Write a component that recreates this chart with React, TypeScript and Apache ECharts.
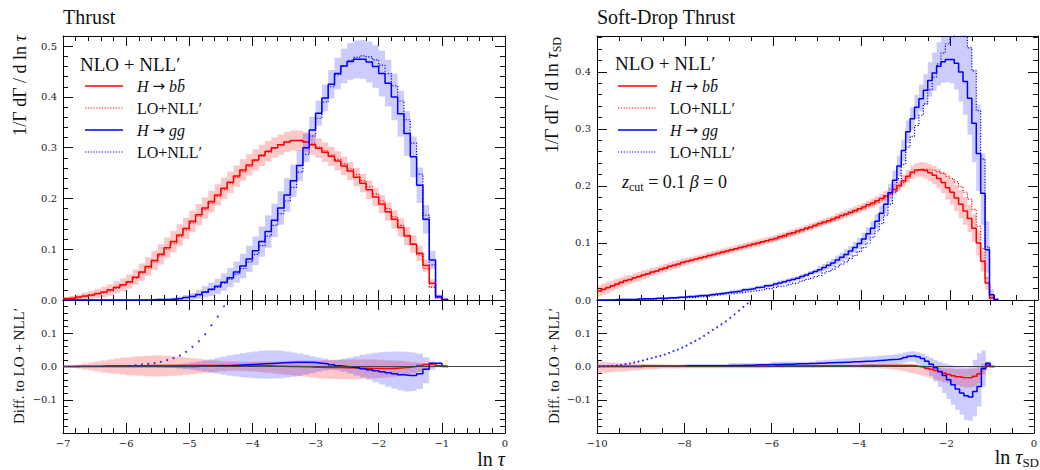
import React, { useEffect, useRef } from "react";
import * as echarts from "echarts";

// ---------------- data ----------------
const BIN_W = 0.1;
const L_START = -7.0; // left panel (Thrust) first bin edge
const R_START = -10.0; // right panel (Soft-Drop Thrust) first bin edge

// Left panel: H -> bb (red)
const L_RED_NLO = [
  0.003, 0.004, 0.006, 0.008, 0.010, 0.013, 0.016, 0.020, 0.025, 0.030,
  0.036, 0.045, 0.055, 0.066, 0.078, 0.090, 0.103, 0.115, 0.128, 0.141,
  0.155, 0.168, 0.181, 0.194, 0.207, 0.220, 0.232, 0.244, 0.256, 0.266,
  0.276, 0.285, 0.293, 0.300, 0.306, 0.311, 0.314, 0.314, 0.311, 0.306,
  0.299, 0.291, 0.283, 0.274, 0.264, 0.254, 0.242, 0.230, 0.217, 0.203,
  0.189, 0.174, 0.159, 0.143, 0.126, 0.110, 0.092, 0.068, 0.033, 0.006,
  0.001,
];
const L_RED_DIFF = [
  0.000, 0.000, 0.001, 0.001, 0.001, 0.001, 0.002, 0.002, 0.002, 0.002,
  0.002, 0.002, 0.002, 0.003, 0.003, 0.003, 0.003, 0.003, 0.003, 0.003,
  0.003, 0.003, 0.003, 0.003, 0.003, 0.003, 0.003, 0.003, 0.003, 0.003,
  0.002, 0.002, 0.002, 0.001, 0.001, 0.000, 0.000, -0.001, -0.001, -0.002,
  -0.002, -0.003, -0.003, -0.003, -0.004, -0.004, -0.005, -0.005, -0.006, -0.006,
  -0.006, -0.006, -0.005, -0.004, -0.002, 0.000, 0.003, 0.006, 0.008, 0.002,
  0.000,
];
const L_RED_ERR = [
  0.003, 0.004, 0.005, 0.007, 0.008, 0.009, 0.010, 0.011, 0.012, 0.013,
  0.014, 0.015, 0.017, 0.018, 0.019, 0.020, 0.020, 0.021, 0.021, 0.021,
  0.021, 0.021, 0.021, 0.021, 0.021, 0.021, 0.021, 0.021, 0.021, 0.021,
  0.021, 0.021, 0.020, 0.020, 0.020, 0.020, 0.020, 0.020, 0.020, 0.020,
  0.019, 0.019, 0.019, 0.019, 0.018, 0.018, 0.018, 0.018, 0.018, 0.018,
  0.018, 0.018, 0.018, 0.018, 0.018, 0.017, 0.015, 0.012, 0.008, 0.003,
  0.001,
];
const L_RED_BLO = [
  -0.001, -0.003, -0.006, -0.009, -0.012, -0.015, -0.018, -0.020, -0.022, -0.024,
  -0.026, -0.027, -0.028, -0.029, -0.030, -0.030, -0.029, -0.028, -0.027, -0.025,
  -0.023, -0.021, -0.019, -0.017, -0.015, -0.014, -0.013, -0.013, -0.013, -0.014,
  -0.015, -0.017, -0.019, -0.021, -0.023, -0.025, -0.027, -0.029, -0.031, -0.033,
  -0.035, -0.036, -0.037, -0.038, -0.038, -0.038, -0.038, -0.037, -0.036, -0.035,
  -0.034, -0.032, -0.030, -0.028, -0.025, -0.021, -0.016, -0.010, -0.004, -0.001,
  0.000,
];
const L_RED_BHI = [
  0.001, 0.003, 0.006, 0.009, 0.012, 0.015, 0.018, 0.021, 0.024, 0.026,
  0.028, 0.030, 0.031, 0.032, 0.033, 0.033, 0.032, 0.031, 0.029, 0.027,
  0.025, 0.023, 0.021, 0.019, 0.017, 0.016, 0.015, 0.014, 0.014, 0.014,
  0.014, 0.014, 0.015, 0.015, 0.016, 0.016, 0.017, 0.017, 0.018, 0.018,
  0.018, 0.019, 0.019, 0.020, 0.020, 0.021, 0.021, 0.021, 0.021, 0.021,
  0.020, 0.019, 0.018, 0.017, 0.015, 0.013, 0.011, 0.009, 0.010, 0.004,
  0.000,
];

// Left panel: H -> gg (blue)
const L_BLUE_NLO = [
  0.000, 0.000, 0.000, 0.000, 0.000, 0.000, 0.000, 0.000, 0.000, 0.000,
  0.000, 0.000, 0.000, 0.000, 0.001, 0.001, 0.001, 0.002, 0.003, 0.005,
  0.007, 0.011, 0.016, 0.021, 0.027, 0.035, 0.044, 0.055, 0.067, 0.081,
  0.097, 0.115, 0.135, 0.157, 0.181, 0.207, 0.235, 0.265, 0.300, 0.335,
  0.368, 0.398, 0.425, 0.446, 0.461, 0.470, 0.474, 0.474, 0.469, 0.460,
  0.446, 0.427, 0.400, 0.367, 0.328, 0.282, 0.226, 0.159, 0.079, 0.007,
  0.001,
];
const L_BLUE_DIFF = [
  0.000, 0.000, 0.000, 0.000, 0.000, 0.000, 0.000, 0.000, 0.000, 0.000,
  0.000, 0.000, 0.000, 0.000, 0.000, 0.000, 0.000, 0.000, 0.000, 0.000,
  0.000, 0.001, 0.001, 0.001, 0.002, 0.002, 0.003, 0.004, 0.005, 0.006,
  0.007, 0.008, 0.009, 0.010, 0.011, 0.012, 0.013, 0.013, 0.013, 0.012,
  0.010, 0.008, 0.005, 0.002, 0.000, -0.002, -0.004, -0.007, -0.010, -0.013,
  -0.016, -0.019, -0.022, -0.025, -0.027, -0.027, -0.022, -0.008, 0.010, 0.010,
  0.000,
];
const L_BLUE_ERR = [
  0.000, 0.000, 0.000, 0.000, 0.000, 0.000, 0.000, 0.000, 0.000, 0.000,
  0.000, 0.000, 0.000, 0.001, 0.001, 0.002, 0.002, 0.003, 0.004, 0.005,
  0.007, 0.009, 0.011, 0.013, 0.015, 0.017, 0.019, 0.021, 0.024, 0.026,
  0.028, 0.030, 0.032, 0.033, 0.033, 0.033, 0.032, 0.030, 0.028, 0.026,
  0.025, 0.026, 0.028, 0.031, 0.034, 0.036, 0.037, 0.038, 0.040, 0.042,
  0.045, 0.046, 0.046, 0.045, 0.044, 0.040, 0.035, 0.028, 0.018, 0.004,
  0.001,
];
const L_BLUE_BLO = [
  0.000, 0.000, 0.000, 0.000, 0.000, 0.000, 0.000, 0.000, 0.000, 0.000,
  0.000, 0.000, 0.000, 0.000, -0.001, -0.002, -0.003, -0.004, -0.006, -0.008,
  -0.010, -0.013, -0.016, -0.019, -0.022, -0.025, -0.028, -0.030, -0.032, -0.034,
  -0.035, -0.036, -0.037, -0.036, -0.035, -0.033, -0.031, -0.028, -0.024, -0.020,
  -0.016, -0.012, -0.010, -0.012, -0.016, -0.021, -0.027, -0.033, -0.040, -0.047,
  -0.054, -0.061, -0.067, -0.072, -0.075, -0.074, -0.068, -0.050, -0.010, -0.002,
  0.000,
];
const L_BLUE_BHI = [
  0.000, 0.000, 0.000, 0.000, 0.000, 0.000, 0.000, 0.000, 0.000, 0.000,
  0.000, 0.000, 0.000, 0.000, 0.001, 0.002, 0.003, 0.005, 0.007, 0.009,
  0.012, 0.015, 0.018, 0.022, 0.026, 0.030, 0.034, 0.037, 0.040, 0.043,
  0.045, 0.047, 0.048, 0.048, 0.047, 0.045, 0.042, 0.039, 0.035, 0.031,
  0.027, 0.023, 0.020, 0.020, 0.023, 0.027, 0.031, 0.035, 0.038, 0.041,
  0.043, 0.044, 0.045, 0.045, 0.044, 0.042, 0.038, 0.028, 0.015, 0.012,
  0.000,
];
// Left lower panel: dotted blue points
const L_DOT_X = [-5.95, -5.85, -5.75, -5.65, -5.55, -5.45, -5.35, -5.25, -5.15, -5.05, -4.95, -4.85, -4.75, -4.65, -4.55, -4.45];
const L_DOT_Y = [0.002, 0.004, 0.006, 0.008, 0.010, 0.014, 0.019, 0.025, 0.033, 0.044, 0.059, 0.076, 0.097, 0.124, 0.150, 0.181];

// Right panel: H -> bb (red)
const R_RED_NLO = [
  0.016, 0.019, 0.022, 0.025, 0.028, 0.031, 0.034, 0.036, 0.039, 0.041,
  0.044, 0.046, 0.049, 0.051, 0.054, 0.056, 0.059, 0.061, 0.063, 0.066,
  0.068, 0.070, 0.072, 0.074, 0.076, 0.078, 0.080, 0.082, 0.084, 0.086,
  0.088, 0.090, 0.092, 0.094, 0.096, 0.098, 0.100, 0.102, 0.104, 0.106,
  0.108, 0.111, 0.113, 0.116, 0.118, 0.121, 0.123, 0.126, 0.128, 0.131,
  0.134, 0.137, 0.139, 0.142, 0.145, 0.148, 0.151, 0.154, 0.157, 0.160,
  0.163, 0.167, 0.170, 0.174, 0.178, 0.183, 0.188, 0.194, 0.201, 0.209,
  0.217, 0.224, 0.228, 0.229, 0.227, 0.223, 0.219, 0.213, 0.206, 0.197,
  0.189, 0.179, 0.168, 0.156, 0.143, 0.126, 0.100, 0.068, 0.030, 0.004,
  0.001,
];
const R_RED_DIFF = [
  0.001, 0.001, 0.001, 0.001, 0.001, 0.001, 0.001, 0.001, 0.001, 0.001,
  0.001, 0.001, 0.001, 0.001, 0.001, 0.001, 0.001, 0.001, 0.001, 0.001,
  0.001, 0.001, 0.001, 0.001, 0.001, 0.001, 0.001, 0.001, 0.001, 0.001,
  0.001, 0.001, 0.001, 0.001, 0.001, 0.001, 0.001, 0.001, 0.001, 0.001,
  0.002, 0.002, 0.002, 0.002, 0.002, 0.002, 0.002, 0.002, 0.002, 0.002,
  0.002, 0.002, 0.002, 0.002, 0.002, 0.002, 0.002, 0.002, 0.002, 0.002,
  0.003, 0.003, 0.003, 0.003, 0.003, 0.003, 0.003, 0.003, 0.003, 0.003,
  0.003, 0.003, 0.002, 0.000, -0.002, -0.005, -0.008, -0.012, -0.016, -0.020,
  -0.024, -0.028, -0.031, -0.033, -0.034, -0.033, -0.029, -0.022, -0.008, 0.004,
  0.000,
];
const R_RED_ERR = [
  0.010, 0.010, 0.010, 0.009, 0.009, 0.009, 0.009, 0.008, 0.008, 0.008,
  0.008, 0.008, 0.007, 0.007, 0.007, 0.007, 0.007, 0.007, 0.007, 0.007,
  0.006, 0.006, 0.006, 0.006, 0.006, 0.006, 0.006, 0.006, 0.006, 0.006,
  0.006, 0.006, 0.006, 0.006, 0.006, 0.006, 0.006, 0.006, 0.006, 0.006,
  0.006, 0.006, 0.006, 0.006, 0.006, 0.006, 0.006, 0.006, 0.006, 0.006,
  0.006, 0.006, 0.006, 0.006, 0.007, 0.007, 0.007, 0.007, 0.007, 0.007,
  0.007, 0.007, 0.008, 0.008, 0.008, 0.009, 0.009, 0.010, 0.010, 0.011,
  0.011, 0.012, 0.012, 0.013, 0.014, 0.015, 0.016, 0.017, 0.019, 0.021,
  0.022, 0.023, 0.024, 0.024, 0.024, 0.024, 0.022, 0.018, 0.012, 0.004,
  0.001,
];
const R_RED_BLO = [
  -0.020, -0.019, -0.018, -0.017, -0.016, -0.015, -0.014, -0.013, -0.012, -0.011,
  -0.010, -0.009, -0.008, -0.008, -0.007, -0.006, -0.006, -0.006, -0.006, -0.006,
  -0.005, -0.005, -0.005, -0.005, -0.005, -0.005, -0.005, -0.005, -0.005, -0.005,
  -0.005, -0.005, -0.005, -0.005, -0.005, -0.005, -0.005, -0.005, -0.005, -0.005,
  -0.004, -0.004, -0.004, -0.004, -0.004, -0.004, -0.004, -0.004, -0.004, -0.004,
  -0.004, -0.004, -0.004, -0.004, -0.004, -0.004, -0.004, -0.004, -0.004, -0.004,
  -0.005, -0.005, -0.005, -0.005, -0.005, -0.006, -0.007, -0.008, -0.010, -0.012,
  -0.015, -0.018, -0.021, -0.024, -0.027, -0.031, -0.035, -0.039, -0.043, -0.047,
  -0.051, -0.055, -0.058, -0.061, -0.063, -0.063, -0.060, -0.050, -0.025, -0.002,
  0.000,
];
const R_RED_BHI = [
  0.015, 0.014, 0.013, 0.012, 0.011, 0.010, 0.010, 0.009, 0.009, 0.008,
  0.008, 0.007, 0.007, 0.006, 0.006, 0.006, 0.005, 0.005, 0.005, 0.005,
  0.005, 0.005, 0.005, 0.005, 0.005, 0.005, 0.005, 0.005, 0.005, 0.005,
  0.005, 0.005, 0.005, 0.005, 0.005, 0.005, 0.005, 0.005, 0.005, 0.005,
  0.005, 0.005, 0.005, 0.005, 0.005, 0.005, 0.005, 0.005, 0.005, 0.005,
  0.005, 0.005, 0.005, 0.005, 0.005, 0.005, 0.005, 0.005, 0.005, 0.005,
  0.006, 0.006, 0.006, 0.006, 0.006, 0.007, 0.007, 0.008, 0.008, 0.008,
  0.008, 0.008, 0.007, 0.006, 0.004, 0.002, 0.000, -0.002, -0.004, -0.005,
  -0.006, -0.007, -0.008, -0.008, -0.008, -0.007, -0.005, 0.000, 0.008, 0.008,
  0.000,
];

// Right panel: H -> gg (blue)
const R_BLUE_NLO = [
  0.000, 0.000, 0.000, 0.000, 0.001, 0.001, 0.001, 0.001, 0.001, 0.002,
  0.002, 0.002, 0.002, 0.003, 0.003, 0.003, 0.004, 0.004, 0.005, 0.005,
  0.006, 0.006, 0.007, 0.008, 0.008, 0.009, 0.010, 0.011, 0.012, 0.013,
  0.014, 0.015, 0.016, 0.018, 0.019, 0.020, 0.022, 0.023, 0.025, 0.026,
  0.028, 0.030, 0.032, 0.034, 0.036, 0.038, 0.041, 0.044, 0.047, 0.050,
  0.053, 0.057, 0.061, 0.065, 0.070, 0.075, 0.080, 0.086, 0.092, 0.099,
  0.107, 0.116, 0.126, 0.138, 0.152, 0.168, 0.188, 0.210, 0.235, 0.262,
  0.295, 0.318, 0.338, 0.353, 0.368, 0.385, 0.398, 0.410, 0.418, 0.422,
  0.422, 0.415, 0.400, 0.383, 0.354, 0.310, 0.257, 0.187, 0.088, 0.009,
  0.001,
];
const R_BLUE_DIFF = [
  0.000, 0.000, 0.000, 0.000, 0.000, 0.000, 0.000, 0.000, 0.000, 0.000,
  0.001, 0.001, 0.001, 0.001, 0.001, 0.001, 0.001, 0.001, 0.001, 0.001,
  0.002, 0.002, 0.002, 0.002, 0.002, 0.002, 0.002, 0.002, 0.002, 0.002,
  0.003, 0.003, 0.003, 0.004, 0.004, 0.004, 0.005, 0.005, 0.005, 0.006,
  0.006, 0.006, 0.007, 0.007, 0.007, 0.008, 0.008, 0.008, 0.009, 0.009,
  0.010, 0.010, 0.011, 0.011, 0.012, 0.012, 0.013, 0.013, 0.014, 0.014,
  0.015, 0.016, 0.016, 0.017, 0.018, 0.019, 0.020, 0.021, 0.022, 0.024,
  0.027, 0.031, 0.032, 0.029, 0.024, 0.016, 0.007, -0.004, -0.015, -0.027,
  -0.040, -0.055, -0.068, -0.080, -0.088, -0.092, -0.075, -0.060, -0.005, 0.010,
  0.000,
];
const R_BLUE_ELO = [
  0.001, 0.001, 0.001, 0.001, 0.001, 0.001, 0.001, 0.001, 0.001, 0.001,
  0.002, 0.002, 0.002, 0.002, 0.002, 0.002, 0.002, 0.002, 0.002, 0.002,
  0.002, 0.002, 0.002, 0.002, 0.002, 0.002, 0.002, 0.002, 0.002, 0.002,
  0.003, 0.003, 0.003, 0.003, 0.003, 0.003, 0.003, 0.003, 0.003, 0.003,
  0.004, 0.004, 0.004, 0.004, 0.004, 0.004, 0.004, 0.004, 0.004, 0.004,
  0.006, 0.006, 0.007, 0.007, 0.008, 0.008, 0.009, 0.009, 0.010, 0.010,
  0.011, 0.011, 0.012, 0.013, 0.014, 0.015, 0.016, 0.017, 0.018, 0.019,
  0.020, 0.020, 0.020, 0.022, 0.025, 0.028, 0.031, 0.034, 0.037, 0.040,
  0.042, 0.046, 0.052, 0.058, 0.064, 0.068, 0.066, 0.055, 0.040, 0.005,
  0.001,
];
const R_BLUE_EHI = [
  0.001, 0.001, 0.001, 0.001, 0.001, 0.001, 0.001, 0.001, 0.001, 0.001,
  0.002, 0.002, 0.002, 0.002, 0.002, 0.002, 0.002, 0.002, 0.002, 0.002,
  0.002, 0.002, 0.002, 0.002, 0.002, 0.002, 0.002, 0.002, 0.002, 0.002,
  0.003, 0.003, 0.003, 0.003, 0.003, 0.003, 0.003, 0.003, 0.003, 0.003,
  0.004, 0.004, 0.004, 0.004, 0.004, 0.004, 0.004, 0.004, 0.004, 0.004,
  0.006, 0.006, 0.007, 0.007, 0.008, 0.008, 0.009, 0.009, 0.010, 0.010,
  0.011, 0.011, 0.012, 0.013, 0.014, 0.015, 0.016, 0.017, 0.018, 0.019,
  0.020, 0.020, 0.022, 0.025, 0.028, 0.032, 0.036, 0.042, 0.048, 0.055,
  0.062, 0.070, 0.078, 0.085, 0.090, 0.094, 0.086, 0.070, 0.050, 0.010,
  0.001,
];
const R_BLUE_BLO = [
  -0.002, -0.002, -0.002, -0.002, -0.002, -0.002, -0.002, -0.002, -0.002, -0.002,
  -0.003, -0.003, -0.003, -0.003, -0.003, -0.003, -0.003, -0.003, -0.003, -0.003,
  -0.003, -0.003, -0.003, -0.003, -0.003, -0.003, -0.003, -0.003, -0.003, -0.003,
  -0.003, -0.003, -0.003, -0.003, -0.003, -0.003, -0.003, -0.003, -0.003, -0.003,
  -0.003, -0.003, -0.003, -0.003, -0.003, -0.003, -0.003, -0.003, -0.003, -0.003,
  -0.002, -0.002, -0.001, -0.001, 0.000, 0.000, 0.001, 0.001, 0.002, 0.002,
  0.002, 0.003, 0.003, 0.003, 0.004, 0.004, 0.005, 0.006, 0.007, 0.009,
  0.012, 0.015, 0.014, 0.008, 0.000, -0.012, -0.028, -0.045, -0.062, -0.080,
  -0.098, -0.115, -0.130, -0.145, -0.160, -0.163, -0.150, -0.120, -0.060, -0.005,
  0.000,
];
const R_BLUE_BHI = [
  0.002, 0.002, 0.002, 0.002, 0.002, 0.002, 0.002, 0.002, 0.002, 0.002,
  0.005, 0.005, 0.005, 0.005, 0.005, 0.005, 0.005, 0.005, 0.005, 0.005,
  0.007, 0.007, 0.007, 0.007, 0.007, 0.007, 0.007, 0.007, 0.007, 0.007,
  0.010, 0.010, 0.010, 0.010, 0.010, 0.010, 0.010, 0.010, 0.010, 0.010,
  0.014, 0.014, 0.014, 0.014, 0.014, 0.014, 0.014, 0.014, 0.014, 0.014,
  0.018, 0.019, 0.020, 0.021, 0.022, 0.023, 0.024, 0.025, 0.026, 0.027,
  0.028, 0.029, 0.030, 0.031, 0.032, 0.033, 0.034, 0.035, 0.037, 0.039,
  0.042, 0.045, 0.046, 0.043, 0.038, 0.032, 0.026, 0.020, 0.014, 0.010,
  0.006, 0.003, 0.000, -0.002, -0.003, 0.000, 0.020, 0.040, 0.048, 0.015,
  0.000,
];
// Right lower panel: dotted blue points
const R_DOT_X = [
  -9.95, -9.85, -9.75, -9.65, -9.55, -9.45, -9.35, -9.25, -9.15, -9.05,
  -8.95, -8.85, -8.75, -8.65, -8.55, -8.45, -8.35, -8.25, -8.15, -8.05,
  -7.95, -7.85, -7.75, -7.65, -7.55, -7.45, -7.35, -7.25, -7.15, -7.05,
  -6.95, -6.85, -6.75, -6.65, -6.55,
];
const R_DOT_Y = [
  0.000, 0.001, 0.001, 0.002, 0.003, 0.005, 0.007, 0.009, 0.012, 0.015,
  0.018, 0.022, 0.025, 0.029, 0.032, 0.036, 0.041, 0.046, 0.051, 0.057,
  0.063, 0.070, 0.077, 0.084, 0.092, 0.101, 0.110, 0.118, 0.127, 0.136,
  0.146, 0.157, 0.168, 0.179, 0.190,
];

// ---------------- styling ----------------
const SERIF = '"Liberation Serif", "Times New Roman", serif';
const TICK_FONT = '"DejaVu Serif", serif';
const ARROW_FONT = '"DejaVu Sans", sans-serif';
const RED = "#ff0000";
const BLUE = "#0000ff";
const RED_BAND = "rgba(255,0,0,0.22)";
const BLUE_BAND = "rgba(0,0,255,0.20)";
const DOTS: number[] = [1.2, 1.6];

const L_YMAX = 0.52;
const R_YMAX = 0.463;
const D_MIN = -0.2;
const D_MAX = 0.2;

function makeEdges(start: number, n: number) {
  const e: number[] = [];
  for (let i = 0; i <= n; i++) e.push(Math.round((start + i * BIN_W) * 1000) / 1000);
  return e;
}
function stepData(e: number[], v: number[]) {
  const d: number[][] = v.map((y, i) => [e[i], y]);
  d.push([e[v.length], v[v.length - 1]]);
  return d;
}
const minus = (a: number[], b: number[]) => a.map((v, i) => v - (b[i] || 0));
const plus = (a: number[], b: number[]) => a.map((v, i) => v + (b[i] || 0));

function fmtNum(v: number, digits: number) {
  const s = Math.abs(v).toFixed(digits);
  return v < -1e-9 ? "\u2212" + s : s;
}
const fmtX = (v: number) => fmtNum(v, 0);
const fmtYMain = (v: number) => {
  const k = v * 10;
  if (Math.abs(k - Math.round(k)) > 1e-6) return "";
  return fmtNum(v, 1);
};
const fmtYDiff = (v: number) => (Math.abs(v) < 0.15 ? fmtNum(v, 1) : "");

function axes(kind: "x" | "y", grid: number, min: number, max: number, major: number, minor: number, labels: boolean, fmt: (v: number) => string, margin: number) {
  const positions = kind === "x" ? ["bottom", "top"] : ["left", "right"];
  const out: any[] = [];
  positions.forEach((pos, k) => {
    const common = {
      type: "value", gridIndex: grid, min, max, position: pos,
      splitLine: { show: false }, minorTick: { show: false }, minorSplitLine: { show: false },
      axisPointer: { show: false }, silent: true,
    };
    out.push({
      ...common, interval: major,
      axisLine: { show: true, onZero: false, lineStyle: { color: "#000", width: 1 } },
      axisTick: { show: true, inside: true, length: 10, lineStyle: { color: "#111", width: 1 } },
      axisLabel: { show: labels && k === 0, fontFamily: TICK_FONT, fontSize: 10, color: "#222", margin, formatter: fmt },
    });
    out.push({
      ...common, interval: minor,
      axisLine: { show: false, onZero: false },
      axisTick: { show: true, inside: true, length: 5, lineStyle: { color: "#111", width: 1 } },
      axisLabel: { show: false },
    });
  });
  return out;
}

function band(ai: number, e: number[], lo: number[], hi: number[], fill: string, ymin: number, ymax: number) {
  const mid = e[Math.floor(e.length / 2)];
  return {
    type: "custom", xAxisIndex: ai, yAxisIndex: ai, silent: true, z: 1,
    data: [[mid, 0]],
    renderItem: (_p: any, api: any) => {
      const top: number[][] = [];
      const bot: number[][] = [];
      const clamp = (v: number) => Math.min(ymax, Math.max(ymin, v));
      for (let i = 0; i < lo.length; i++) {
        const h = clamp(hi[i]);
        const l = clamp(lo[i]);
        top.push(api.coord([e[i], h]), api.coord([e[i + 1], h]));
        bot.push(api.coord([e[i], l]), api.coord([e[i + 1], l]));
      }
      bot.reverse();
      return { type: "polygon", shape: { points: top.concat(bot) }, style: { fill, stroke: "none" } };
    },
  };
}

function stepLine(ai: number, e: number[], v: number[], color: string, dotted: boolean, z: number) {
  return {
    type: "line", xAxisIndex: ai, yAxisIndex: ai, data: stepData(e, v), step: "end",
    symbol: "none", showSymbol: false, silent: true, z, clip: true,
    lineStyle: { color, width: dotted ? 1.2 : 1.5, type: dotted ? DOTS : "solid" },
    itemStyle: { color },
  };
}

function dots(ai: number, xs: number[], ys: number[]) {
  return {
    type: "scatter", xAxisIndex: ai, yAxisIndex: ai, data: xs.map((x, i) => [x, ys[i]]),
    symbol: "circle", symbolSize: 2, silent: true, z: 4, clip: true,
    itemStyle: { color: BLUE },
  };
}

function zeroLine(ai: number, x0: number) {
  return {
    type: "line", xAxisIndex: ai, yAxisIndex: ai, data: [[x0, 0], [0, 0]],
    symbol: "none", silent: true, z: 5, lineStyle: { color: "#444", width: 1 },
  };
}

// ---------------- text helpers ----------------
const tok = (size: number, italic = false, extra: any = {}) => ({
  fontFamily: SERIF, fontSize: size, fontStyle: italic ? "italic" : "normal", fill: "#111",
  lineHeight: size, ...extra,
});
const subTok = (size: number, pad: number) => tok(size, false, { lineHeight: size, padding: [pad, 0, 0, 0], verticalAlign: "top" });

function txt(x: number, y: number, text: string, rich: any, align: string, valign: string, rotation = 0, size = 16) {
  return {
    type: "text", x, y, rotation, silent: true, z: 100,
    style: {
      text, rich, fill: "#111", fontFamily: SERIF, fontSize: size,
      textAlign: align, align, textVerticalAlign: valign, verticalAlign: valign,
    },
  };
}
function sample(x1: number, x2: number, y: number, color: string, dotted: boolean) {
  return {
    type: "line", silent: true, z: 100,
    shape: { x1, y1: y, x2, y2: y },
    style: { stroke: color, lineWidth: dotted ? 1.2 : 1.5, lineDash: dotted ? DOTS : null },
  };
}

function buildOption() {
  const LE = makeEdges(L_START, L_RED_NLO.length);
  const RE = makeEdges(R_START, R_RED_NLO.length);

  const grid = [
    { left: 63, top: 36, width: 442, height: 264 },
    { left: 63, top: 300, width: 442, height: 133 },
    { left: 597, top: 36, width: 441, height: 264 },
    { left: 597, top: 300, width: 441, height: 133 },
  ];

  const xAxis = [
    ...axes("x", 0, -7, 0, 1, 0.2, false, fmtX, 5),
    ...axes("x", 1, -7, 0, 1, 0.2, true, fmtX, 5),
    ...axes("x", 2, -10, 0, 2, 0.5, false, fmtX, 5),
    ...axes("x", 3, -10, 0, 2, 0.5, true, fmtX, 5),
  ];
  const yAxis = [
    ...axes("y", 0, 0, L_YMAX, 0.1, 0.02, true, fmtYMain, 6),
    ...axes("y", 1, D_MIN, D_MAX, 0.1, 0.02, true, fmtYDiff, 6),
    ...axes("y", 2, 0, R_YMAX, 0.1, 0.02, true, fmtYMain, 6),
    ...axes("y", 3, D_MIN, D_MAX, 0.1, 0.02, true, fmtYDiff, 6),
  ];

  const L_RED_LO = minus(L_RED_NLO, L_RED_DIFF);
  const L_BLUE_LO = minus(L_BLUE_NLO, L_BLUE_DIFF);
  const R_RED_LO = minus(R_RED_NLO, R_RED_DIFF);
  const R_BLUE_LO = minus(R_BLUE_NLO, R_BLUE_DIFF);

  const series: any[] = [
    // left main
    band(0, LE, minus(L_RED_NLO, L_RED_ERR), plus(L_RED_NLO, L_RED_ERR), RED_BAND, 0, L_YMAX),
    band(0, LE, minus(L_BLUE_NLO, L_BLUE_ERR), plus(L_BLUE_NLO, L_BLUE_ERR), BLUE_BAND, 0, L_YMAX),
    stepLine(0, LE, L_RED_LO, RED, true, 2),
    stepLine(0, LE, L_RED_NLO, RED, false, 3),
    stepLine(0, LE, L_BLUE_LO, BLUE, true, 2),
    stepLine(0, LE, L_BLUE_NLO, BLUE, false, 3),
    // left lower
    band(4, LE, L_RED_BLO, L_RED_BHI, RED_BAND, D_MIN, D_MAX),
    band(4, LE, L_BLUE_BLO, L_BLUE_BHI, BLUE_BAND, D_MIN, D_MAX),
    stepLine(4, LE, L_RED_DIFF, RED, false, 3),
    stepLine(4, LE, L_BLUE_DIFF, BLUE, false, 3),
    dots(4, L_DOT_X, L_DOT_Y),
    zeroLine(4, -7),
    // right main
    band(8, RE, minus(R_RED_NLO, R_RED_ERR), plus(R_RED_NLO, R_RED_ERR), RED_BAND, 0, R_YMAX),
    band(8, RE, minus(R_BLUE_NLO, R_BLUE_ELO), plus(R_BLUE_NLO, R_BLUE_EHI), BLUE_BAND, 0, R_YMAX),
    stepLine(8, RE, R_RED_LO, RED, true, 2),
    stepLine(8, RE, R_RED_NLO, RED, false, 3),
    stepLine(8, RE, R_BLUE_LO, BLUE, true, 2),
    stepLine(8, RE, R_BLUE_NLO, BLUE, false, 3),
    // right lower
    band(12, RE, R_RED_BLO, R_RED_BHI, RED_BAND, D_MIN, D_MAX),
    band(12, RE, R_BLUE_BLO, R_BLUE_BHI, BLUE_BAND, D_MIN, D_MAX),
    stepLine(12, RE, R_RED_DIFF, RED, false, 3),
    stepLine(12, RE, R_BLUE_DIFF, BLUE, false, 3),
    dots(12, R_DOT_X, R_DOT_Y),
    zeroLine(12, -10),
  ];

  const yl = { rm: tok(18), it: tok(18, true), sub: subTok(12, 8) };
  const xl = { rm: tok(20), it: tok(20, true), sub: subTok(13, 9) };
  const lg = { rm: tok(16), it: tok(16, true), ar: tok(15, false, { fontFamily: ARROW_FONT }) };
  const hd = { rm: tok(19) };
  const zc = { rm: tok(18), it: tok(18, true), sub: subTok(12, 8) };
  const ti = { rm: tok(20) };
  const dl = { rm: tok(15) };

  const graphic: any[] = [
    txt(63, 17, "{rm|Thrust}", ti, "left", "middle"),
    txt(597, 17, "{rm|Soft-Drop Thrust}", ti, "left", "middle"),
    txt(20, 35, "{rm|1/\u0393 d\u0393 / d ln }{it|\u03c4}", yl, "right", "middle", Math.PI / 2),
    txt(552, 37, "{rm|1/\u0393 d\u0393 / d ln }{it|\u03c4}{sub|SD}", yl, "right", "middle", Math.PI / 2),
    txt(19, 366, "{rm|Diff. to LO + NLL\u2032}", dl, "center", "middle", Math.PI / 2),
    txt(554, 366, "{rm|Diff. to LO + NLL\u2032}", dl, "center", "middle", Math.PI / 2),
    txt(505, 459, "{rm|ln }{it|\u03c4}", xl, "right", "middle"),
    txt(1039, 457, "{rm|ln }{it|\u03c4}{sub|SD}", xl, "right", "middle"),
    // left legend
    txt(80, 64, "{rm|NLO + NLL\u2032}", hd, "left", "middle"),
    sample(85, 123, 86, RED, false),
    sample(85, 123, 108, RED, true),
    sample(85, 123, 130, BLUE, false),
    sample(85, 123, 152, BLUE, true),
    txt(137, 86, "{it|H}{rm| }{ar|\u2192}{rm| }{it|bb\u0304}", lg, "left", "middle"),
    txt(137, 108, "{rm|LO+NLL\u2032}", lg, "left", "middle"),
    txt(137, 130, "{it|H}{rm| }{ar|\u2192}{rm| }{it|gg}", lg, "left", "middle"),
    txt(137, 152, "{rm|LO+NLL\u2032}", lg, "left", "middle"),
    // right legend
    txt(615, 63, "{rm|NLO + NLL\u2032}", hd, "left", "middle"),
    sample(618, 657, 86, RED, false),
    sample(618, 657, 108, RED, true),
    sample(618, 657, 130, BLUE, false),
    sample(618, 657, 152, BLUE, true),
    txt(670, 86, "{it|H}{rm| }{ar|\u2192}{rm| }{it|bb\u0304}", lg, "left", "middle"),
    txt(670, 108, "{rm|LO+NLL\u2032}", lg, "left", "middle"),
    txt(670, 130, "{it|H}{rm| }{ar|\u2192}{rm| }{it|gg}", lg, "left", "middle"),
    txt(670, 152, "{rm|LO+NLL\u2032}", lg, "left", "middle"),
    txt(622, 182, "{it|z}{sub|cut}{rm| = 0.1 }{it|\u03b2}{rm| = 0}", zc, "left", "middle"),
  ];

  return {
    animation: false,
    backgroundColor: "#ffffff",
    grid,
    xAxis,
    yAxis,
    series,
    graphic,
  };
}

export default function App() {
  const ref = useRef<HTMLDivElement>(null);
  useEffect(() => {
    document.body.style.margin = "0";
    if (!ref.current) return;
    const chart = echarts.init(ref.current, undefined, { renderer: "svg", width: 1040, height: 470 });
    chart.setOption(buildOption() as any);
    return () => chart.dispose();
  }, []);
  return (
    <div
      ref={ref}
      style={{ position: "absolute", left: 0, top: 0, width: 1040, height: 470, background: "#fff" }}
    />
  );
}
